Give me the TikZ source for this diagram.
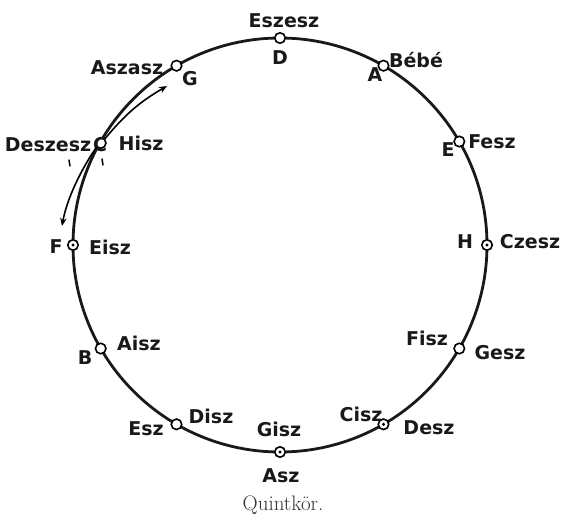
\documentclass[tikz,border=0pt]{standalone}
\usepackage{fontspec}
\newfontfamily\labfont{DejaVu Sans}
\usetikzlibrary{arrows.meta}
\begin{document}
\begin{tikzpicture}[x=1pt,y=-1pt,
  lab/.style={font=\labfont\bfseries\fontsize{19}{19}\selectfont, inner sep=0pt, text=black!90},
  tone/.style={circle, draw=black, line width=1.6pt, fill=white, inner sep=0pt, minimum size=10.5pt},
  ring/.style={line width=2.8pt, black!90},
  arrowline/.style={line width=1.6pt, -{Stealth[length=8pt,width=6.5pt]}},
  tick/.style={line width=1.5pt, line cap=round}]
\useasboundingbox (0,0) rectangle (567,521);
% main circle
\draw[ring] (280,245) circle (207);
% tone markers
\node[tone] (d)  at (280,38) {};
\node[tone] (a)  at (383.5,65.7) {};
\node[tone] (e)  at (459.3,141.5) {};
\node[tone] (h)  at (487,245) {};
\node[tone] (fis) at (459.3,348.5) {};
\node[tone] (cis) at (383.5,424.3) {};
\node[tone] (gis) at (280,452) {};
\node[tone] (dis) at (176.5,424.3) {};
\node[tone] (b)  at (100.7,348.5) {};
\node[tone] (f)  at (73,245) {};
\node[tone] (c)  at (100.7,143) {};
\node[tone] (g)  at (176.5,65.7) {};
\foreach \n in {h,cis,gis,f} \fill (\n) circle (1.7);
% labels
\node[lab] (l-eszesz) at (284,21) {Eszesz};
\node[lab] (l-d) at (280,58) {D};
\node[lab] (l-aszasz) at (127,68) {Aszasz};
\node[lab] (l-g) at (190,79) {G};
\node[lab] (l-a) at (375,75) {A};
\node[lab] (l-bebe) at (416,60) {Bébé};
\node[lab] (l-e) at (448,150) {E};
\node[lab] (l-fesz) at (492,142) {Fesz};
\node[lab] (l-h) at (465,242) {H};
\node[lab] (l-czesz) at (530,242) {Czesz};
\node[lab] (l-fisz) at (427,338) {Fisz};
\node[lab] (l-gesz) at (500,353) {Gesz};
\node[lab] (l-cisz) at (361,414) {Cisz};
\node[lab] (l-desz) at (429,428) {Desz};
\node[lab] (l-gisz) at (279,429) {Gisz};
\node[lab] (l-asz) at (281,476) {Asz};
\node[lab] (l-esz) at (146,429) {Esz};
\node[lab] (l-disz) at (211,416) {Disz};
\node[lab] (l-b) at (85,358) {B};
\node[lab] (l-aisz) at (139,343) {Aisz};
\node[lab] (l-f) at (56,247) {F};
\node[lab] (l-eisz) at (110,247) {Eisz};
\node[lab] (l-deszesz) at (48,145) {Deszesz};
\node[lab] (l-c) at (100,145) {C};
\node[lab] (l-hisz) at (141,143) {Hisz};
\node[font=\fontsize{21}{21}\selectfont, text=black!80, inner sep=0pt] (title) at (283,505) {Quintkör.};
% arrows
\coordinate (ga) at (167,86);
\coordinate (fa) at (62,226);
\draw[arrowline] (c.north east) to[bend left=10] (ga);
\draw[arrowline] (c.south west) .. controls (82,168) and (67,198) .. (fa);
\draw[tick] (69,160) -- (70,166);
\draw[tick] (102,159) -- (103,165);
\end{tikzpicture}
\end{document}
